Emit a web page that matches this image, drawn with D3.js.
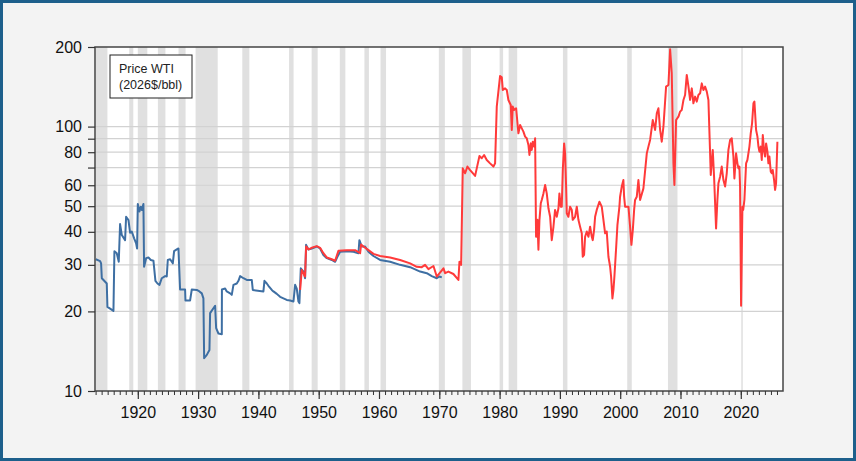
<!DOCTYPE html>
<html>
<head>
<meta charset="utf-8">
<script src="https://cdn.jsdelivr.net/npm/d3@7"></script>
<style>
  body { margin: 0; background: #f3f3f3; }
  svg { display: block; font-family: "Liberation Sans", Arial, sans-serif; }
</style>
</head>
<body>
<div id="chart"></div>
<script>
// Real WTI price, 2026 dollars per barrel, [decimal year, value]
const oldSeries = [
  [1913.03, 31.5], [1913.75, 31.0], [1913.91, 30.4], [1914.03, 26.7], [1914.58, 25.9], [1914.85, 25.5],
  [1914.96, 20.8], [1915.96, 20.1], [1916.12, 33.8], [1916.51, 33.2], [1916.84, 30.8], [1917.06, 42.8],
  [1917.34, 38.9], [1917.89, 37.2], [1918.06, 45.6], [1918.45, 44.3], [1918.72, 39.7], [1919.0, 40.1],
  [1919.39, 37.8], [1919.72, 36.2], [1919.88, 34.6], [1920.0, 51.0], [1920.27, 47.7], [1920.49, 49.8],
  [1920.66, 48.4], [1920.93, 51.0], [1921.04, 29.5], [1921.38, 31.8], [1921.76, 32.0], [1922.15, 31.3],
  [1922.59, 31.1], [1922.92, 26.1], [1923.26, 25.5], [1923.59, 25.2], [1923.97, 26.7], [1924.53, 27.2],
  [1924.8, 27.1], [1924.97, 31.3], [1925.36, 31.5], [1925.8, 30.4], [1926.02, 33.8], [1926.46, 34.3],
  [1926.74, 34.6], [1927.01, 24.2], [1927.84, 24.2], [1927.9, 22.0], [1928.67, 22.0], [1928.95, 24.2],
  [1929.78, 24.1], [1930.22, 23.8], [1930.61, 23.4], [1930.88, 22.4], [1931.0, 13.3], [1931.44, 13.7],
  [1931.88, 14.3], [1931.99, 19.7], [1932.82, 21.0], [1932.99, 17.3], [1933.37, 16.5], [1933.93, 16.4],
  [1933.95, 24.2], [1934.48, 24.4], [1934.75, 23.8], [1935.31, 23.4], [1935.58, 23.1], [1935.86, 25.2],
  [1936.41, 25.5], [1936.69, 26.1], [1936.97, 27.2], [1937.52, 26.7], [1938.07, 26.3], [1938.9, 26.3],
  [1939.07, 24.1], [1940.83, 23.8], [1941.0, 26.1], [1941.39, 25.5], [1941.66, 25.0], [1942.22, 24.1],
  [1942.49, 23.8], [1943.05, 23.3], [1943.6, 22.7], [1944.15, 22.4], [1944.7, 22.1], [1945.26, 22.0],
  [1945.81, 21.8], [1946.09, 25.2], [1946.36, 24.4], [1946.64, 21.8], [1946.8, 21.5], [1947.03, 29.1],
  [1947.47, 28.3], [1947.74, 26.7], [1947.91, 35.7], [1948.3, 34.3], [1948.85, 34.6], [1949.68, 35.2],
  [1950.23, 34.6], [1950.78, 32.7], [1951.34, 31.8], [1952.17, 31.3], [1952.72, 30.8], [1953.1, 32.2],
  [1953.55, 33.6], [1954.65, 33.8], [1955.76, 33.6], [1956.59, 33.2], [1956.75, 37.2], [1957.14, 35.2],
  [1957.69, 35.2], [1958.25, 33.6], [1959.08, 32.4], [1960.18, 31.3], [1961.84, 30.8], [1963.5, 30.0],
  [1965.16, 29.4], [1966.82, 28.3], [1967.92, 27.9], [1968.75, 27.2], [1969.58, 26.7], [1970.02, 27.1],
  [1970.41, 26.9]
];

const wtiSeries = [
  [1946.92, 24.1], [1947.19, 28.7], [1947.74, 27.1], [1947.91, 35.2], [1948.3, 34.3], [1948.85, 34.8],
  [1949.68, 35.3], [1950.23, 34.8], [1950.78, 33.2], [1951.34, 32.0], [1952.17, 31.5], [1952.72, 31.1],
  [1953.27, 33.9], [1954.65, 34.1], [1956.04, 34.1], [1956.87, 33.2], [1957.03, 35.8], [1957.42, 35.2],
  [1958.25, 34.1], [1959.08, 33.0], [1960.18, 32.4], [1961.84, 32.0], [1963.5, 31.3], [1965.16, 30.4],
  [1966.26, 29.5], [1967.09, 29.4], [1967.64, 30.0], [1968.2, 28.9], [1969.03, 29.7], [1969.58, 27.1],
  [1970.69, 29.1], [1970.96, 27.9], [1971.51, 28.3], [1972.34, 27.7], [1973.17, 26.3], [1973.34, 30.8],
  [1973.62, 30.0], [1973.89, 69.5], [1974.28, 66.6], [1974.66, 70.6], [1975.11, 68.5], [1975.66, 66.2],
  [1975.94, 65.1], [1976.21, 69.5], [1976.66, 77.4], [1977.04, 75.9], [1977.43, 78.1], [1977.87, 74.8],
  [1978.42, 72.6], [1978.98, 70.6], [1979.25, 72.6], [1979.53, 119], [1980.08, 155.4], [1980.36, 153.6],
  [1980.53, 137.5], [1980.91, 139.5], [1981.19, 137.5], [1981.46, 126.1], [1981.85, 120.7], [1982.02, 97.1],
  [1982.18, 119], [1982.4, 115.6], [1982.74, 117.3], [1983.12, 94.3], [1983.4, 101.4], [1983.68, 98.5],
  [1983.95, 95.7], [1984.23, 91.6], [1984.5, 90.3], [1984.78, 85.2], [1984.95, 78.1], [1985.17, 86.4],
  [1985.33, 81.6], [1985.5, 87.7], [1985.72, 84.0], [1985.89, 90.3], [1986.05, 38.3], [1986.27, 44.4],
  [1986.44, 34.2], [1986.61, 44.4], [1986.83, 51.3], [1986.99, 52.8], [1987.27, 55.9], [1987.55, 60.1],
  [1987.82, 55.9], [1988.1, 49.1], [1988.38, 45.6], [1988.65, 37.2], [1988.93, 41.8], [1989.2, 48.4],
  [1989.48, 45.6], [1989.76, 49.1], [1989.92, 55.9], [1990.15, 49.8], [1990.31, 49.8], [1990.48, 68.5],
  [1990.7, 86.4], [1990.86, 79.2], [1991.03, 59.3], [1991.14, 47.0], [1991.41, 45.6], [1991.69, 49.8],
  [1991.97, 48.4], [1992.13, 44.4], [1992.52, 45.6], [1992.8, 49.8], [1993.07, 44.4], [1993.35, 41.8],
  [1993.63, 39.5], [1993.79, 32.2], [1994.01, 32.7], [1994.18, 38.3], [1994.46, 40.1], [1994.73, 38.3],
  [1995.01, 41.8], [1995.29, 38.3], [1995.45, 37.2], [1995.67, 40.6], [1995.84, 45.6], [1996.11, 48.4],
  [1996.55, 52.0], [1996.94, 49.8], [1997.22, 44.4], [1997.5, 39.5], [1997.77, 40.1], [1998.05, 32.2],
  [1998.33, 29.5], [1998.49, 27.1], [1998.71, 22.4], [1998.88, 24.1], [1999.04, 27.1], [1999.32, 34.6],
  [1999.54, 42.4], [1999.87, 49.8], [1999.98, 54.3], [2000.26, 59.3], [2000.53, 62.8], [2000.65, 54.3],
  [2000.81, 49.8], [2001.09, 49.8], [2001.37, 49.8], [2001.64, 41.8], [2001.86, 35.7], [2002.09, 40.6],
  [2002.31, 48.4], [2002.47, 52.8], [2002.75, 54.3], [2003.02, 62.8], [2003.3, 52.8], [2003.85, 58.4],
  [2004.41, 79.2], [2004.68, 84.0], [2004.96, 89.0], [2005.4, 105.9], [2005.79, 97.1], [2006.07, 112.2],
  [2006.34, 117.3], [2006.62, 97.1], [2006.89, 87.7], [2007.17, 99.9], [2007.61, 141.6], [2008.0, 143.7],
  [2008.28, 196], [2008.55, 159], [2008.83, 72.6], [2008.99, 60.1], [2009.27, 105.9], [2009.66, 109],
  [2009.93, 113.9], [2010.21, 115.6], [2010.49, 126.1], [2010.76, 131.7], [2011.04, 156.8], [2011.32, 141.6],
  [2011.59, 126.1], [2011.87, 139.5], [2012.14, 122.5], [2012.42, 129.8], [2012.7, 124.3], [2012.97, 131.7],
  [2013.25, 133.6], [2013.53, 145.7], [2013.8, 137.5], [2014.08, 141.6], [2014.36, 135.6], [2014.63, 126.1],
  [2014.91, 79.2], [2015.02, 65.6], [2015.35, 81.6], [2015.57, 64.6], [2015.9, 41.2], [2016.12, 52.8],
  [2016.29, 61.0], [2016.57, 64.6], [2016.84, 70.6], [2017.12, 62.8], [2017.4, 59.3], [2017.67, 66.6],
  [2017.95, 81.6], [2018.23, 89.0], [2018.5, 90.3], [2018.78, 77.0], [2018.94, 63.7], [2019.22, 79.2],
  [2019.44, 72.6], [2019.61, 69.5], [2019.77, 70.6], [2019.88, 59.3], [2020.05, 21.0], [2020.27, 49.8],
  [2020.4, 48.4], [2020.6, 52.8], [2020.88, 72.6], [2021.1, 74.8], [2021.43, 84.0], [2021.65, 94.3],
  [2021.87, 102.9], [2022.1, 122.5], [2022.26, 124.3], [2022.54, 97.1], [2022.76, 91.6], [2022.93, 84.0],
  [2023.09, 80.4], [2023.31, 84.0], [2023.48, 74.8], [2023.65, 92.9], [2023.87, 80.4], [2024.03, 77.0],
  [2024.2, 86.4], [2024.42, 80.4], [2024.58, 72.6], [2024.75, 77.0], [2024.97, 67.5], [2025.14, 66.6],
  [2025.3, 68.5], [2025.52, 62.8], [2025.69, 57.6], [2025.85, 61.0], [2026.07, 87.7]
];

// NBER recessions, [start, end] as decimal years
const recessions = [
  [1913.0, 1914.96], [1918.58, 1919.25], [1920.0, 1921.58], [1923.33, 1924.58], [1926.75, 1927.92],
  [1929.58, 1933.25], [1937.33, 1938.5], [1945.08, 1945.83], [1948.83, 1949.83], [1953.5, 1954.42],
  [1957.58, 1958.33], [1960.25, 1961.17], [1969.92, 1970.92], [1973.83, 1975.25], [1980.0, 1980.58],
  [1981.5, 1982.92], [1990.5, 1991.25], [2001.17, 2001.92], [2007.92, 2009.5], [2020.08, 2020.33]
];

const yTickValues = [10, 20, 30, 40, 50, 60, 70, 80, 90, 100, 200];
const yTickLabels = ['10', '20', '30', '40', '50', '60', '', '80', '', '100', '200'];
const yGridValues = [20, 30, 40, 50, 60, 70, 80, 90, 100];
const xMajorTicks = [1920, 1930, 1940, 1950, 1960, 1970, 1980, 1990, 2000, 2010, 2020];
const xMinorTicks = d3.range(1913, 2027);
const legendLines = ['Price WTI', '(2026$/bbl)'];

let W = 856, H = 461,
  margin = { top: 47, left: 95, right: 73, bottom: 70 },
  width = W - margin.left - margin.right,
  height = H - margin.top - margin.bottom;

let svg = d3.select('#chart')
  .append('svg')
    .attr('width', W)
    .attr('height', H);

// outer frame
svg.append('rect').attr('width', W).attr('height', H).attr('fill', '#1d5f8b');
svg.append('rect').attr('x', 3).attr('y', 3).attr('width', W - 6).attr('height', H - 6).attr('fill', '#f3f3f3');

let g = svg.append('g')
  .attr('transform', 'translate(' + margin.left + ',' + margin.top + ')');

let xScale = d3.scaleLinear().domain([1912.9, 2027.0]).range([0, width]);
let yScale = d3.scaleLog().domain([10, 200]).range([height, 0]);

g.append('rect').attr('width', width).attr('height', height).attr('fill', '#fff');

// recession shading
g.append('g').selectAll('rect')
  .data(recessions)
  .enter().append('rect')
    .attr('x', d => xScale(d[0]))
    .attr('width', d => xScale(d[1]) - xScale(d[0]))
    .attr('y', 0)
    .attr('height', height)
    .attr('fill', '#e0e0e0');

// gridlines
g.append('g').selectAll('line')
  .data(yGridValues)
  .enter().append('line')
    .attr('x1', 0).attr('x2', width)
    .attr('y1', d => yScale(d)).attr('y2', d => yScale(d))
    .attr('stroke', '#d2d2d2')
    .attr('stroke-width', 1.2);

let line = d3.line()
  .x(d => xScale(d[0]))
  .y(d => yScale(d[1]));

g.append('path')
  .datum(oldSeries)
  .attr('d', line)
  .attr('fill', 'none')
  .attr('stroke', '#3e6fa3')
  .attr('stroke-width', 2)
  .attr('stroke-linejoin', 'round');

g.append('path')
  .datum(wtiSeries)
  .attr('d', line)
  .attr('fill', 'none')
  .attr('stroke', '#ff3a3a')
  .attr('stroke-width', 2)
  .attr('stroke-linejoin', 'round');

// plot frame
g.append('rect')
  .attr('width', width).attr('height', height)
  .attr('fill', 'none')
  .attr('stroke', '#444')
  .attr('stroke-width', 1.5);

// y axis
let yAxis = g.append('g')
  .call(d3.axisLeft(yScale)
    .tickValues(yTickValues)
    .tickSize(7)
    .tickPadding(6)
    .tickFormat((d, i) => yTickLabels[i]));
yAxis.select('.domain').remove();
yAxis.selectAll('line').attr('stroke', '#333').attr('stroke-width', 1.2);
yAxis.selectAll('text').attr('font-size', '16px').attr('fill', '#111')
  .style('font-family', '"Liberation Sans", Arial, sans-serif');

// x axis, minor then major
let xMinor = g.append('g')
  .attr('transform', 'translate(0,' + height + ')')
  .call(d3.axisBottom(xScale).tickValues(xMinorTicks).tickSize(4).tickFormat(''));
xMinor.select('.domain').remove();
xMinor.selectAll('line').attr('stroke', '#333');

let xAxis = g.append('g')
  .attr('transform', 'translate(0,' + height + ')')
  .call(d3.axisBottom(xScale).tickValues(xMajorTicks).tickSize(8).tickPadding(8).tickFormat(d3.format('d')));
xAxis.select('.domain').remove();
xAxis.selectAll('line').attr('stroke', '#333').attr('stroke-width', 1.2);
xAxis.selectAll('text').attr('font-size', '16px').attr('fill', '#111')
  .style('font-family', '"Liberation Sans", Arial, sans-serif');

// legend box
let legend = svg.append('g').attr('transform', 'translate(110,55)');
legend.append('rect')
  .attr('width', 82).attr('height', 43)
  .attr('fill', '#fff')
  .attr('stroke', '#222')
  .attr('stroke-width', 1);
legend.selectAll('text')
  .data(legendLines)
  .enter().append('text')
    .attr('x', 9)
    .attr('y', (d, i) => 17.5 + i * 16.5)
    .attr('font-size', '12.5px')
    .attr('fill', '#222')
    .text(d => d);
</script>
</body>
</html>
